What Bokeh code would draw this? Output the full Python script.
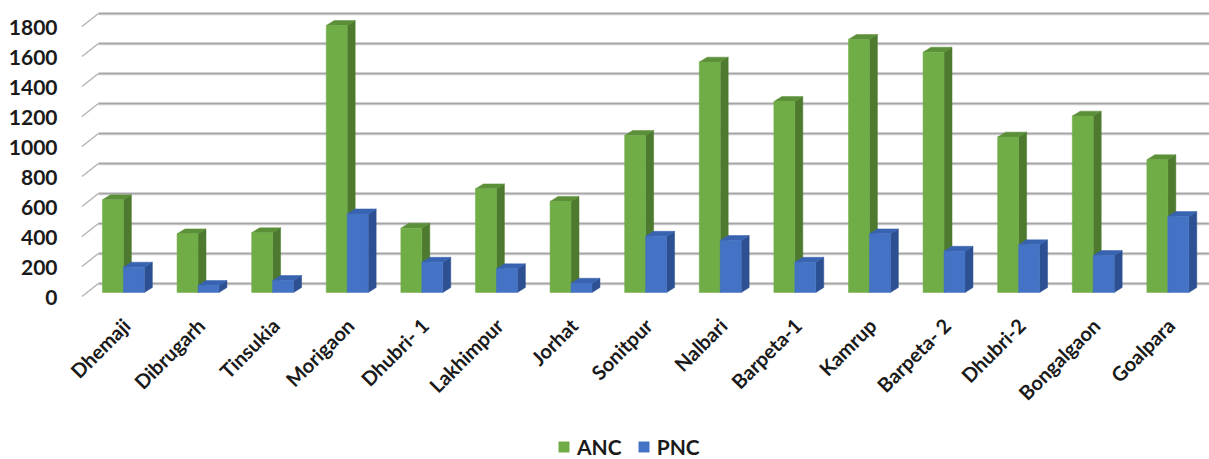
import numpy as np
from bokeh.plotting import figure
from bokeh.models import Range1d, Legend, LegendItem
from bokeh.core.properties import value
from bokeh.embed import file_html
from bokeh.resources import INLINE

# ---------------- data ----------------
districts = ["Dhemaji", "Dibrugarh", "Tinsukia", "Morigaon", "Dhubri- 1", "Lakhimpur",
             "Jorhat", "Sonitpur", "Nalbari", "Barpeta-1", "Kamrup", "Barpeta- 2",
             "Dhubri-2", "Bongalgaon", "Goalpara"]
anc = [618, 391, 398, 1780, 429, 691, 607, 1047, 1536, 1273, 1687, 1602, 1036, 1176, 885]
pnc = [169, 47, 80, 524, 202, 158, 62, 375, 347, 202, 391, 275, 318, 247, 507]
y_ticks = [0, 200, 400, 600, 800, 1000, 1200, 1400, 1600, 1800]
series = ["ANC", "PNC"]

# ---------------- styling / geometry ----------------
FONT = "Lato"
TXT = "#1a1a1a"
GREEN, GREEN_SIDE, GREEN_TOP = "#70ad47", "#4d7a2e", "#5b8f38"
BLUE, BLUE_SIDE, BLUE_TOP = "#4472c4", "#2c5091", "#3863b0"
BAR_W = 0.281            # bar width in category units
ANC_OFF = 0.006          # centre offset of ANC bar from category position
PNC_OFF = 0.287
DX, DY = 0.107, 33.0     # 3-D depth offsets (category units, value units)
WALL_X = -0.188          # back wall left edge
WALL_DY = 60.0           # back wall offset
SIDE_X = -0.429          # front end of slanted side lines
FRONT_DY = -26.7         # front floor edge
YLAB_X, LAB_SHIFT = -0.737, 33.0
XLAB_OFF, XLAB_Y = 0.185, -195.0
XLAB_ANGLE = np.pi / 4

X0, X1 = -1.501, 14.705
Y0, Y1 = -1113.3, 1893.3

p = figure(width=1209, height=459, output_backend="svg", toolbar_location=None,
           x_range=Range1d(X0, X1), y_range=Range1d(Y0, Y1),
           min_border_left=0, min_border_right=0, min_border_top=8,
           min_border_bottom=0, outline_line_color=None,
           x_axis_location=None, y_axis_location=None)
p.xgrid.visible = False
p.ygrid.visible = False

# back wall gridlines and slanted side lines
yt = np.array(y_ticks, dtype=float)
n = len(yt)
p.segment(x0=[WALL_X] * n, y0=yt + WALL_DY - 7, x1=[X1] * n, y1=yt + WALL_DY - 7,
          line_color="#e6e6e6", line_width=2)
p.segment(x0=[WALL_X] * n, y0=yt + WALL_DY, x1=[X1] * n, y1=yt + WALL_DY,
          line_color="#a6a6a6", line_width=2)
p.segment(x0=[SIDE_X + 0.02] * n, y0=yt + FRONT_DY, x1=[WALL_X] * n, y1=yt + WALL_DY,
          line_color="#b5b5b5", line_width=1.5)

# y tick labels
p.text(x=[YLAB_X] * n, y=yt - LAB_SHIFT, text=[str(int(v)) for v in y_ticks],
       text_align="right", text_baseline="middle", text_font=value(FONT),
       text_font_style="bold", text_font_size="21px", text_color=TXT)


def bars3d(vals, off, front, side, top):
    vals = np.array(vals, dtype=float)
    xc = np.arange(len(vals)) + off
    xl, xr = xc - BAR_W / 2, xc + BAR_W / 2
    side_xs = [[a, a + DX, a + DX, a] for a in xr]
    side_ys = [[0, DY, v + DY, v] for v in vals]
    top_xs = [[l, l + DX, r + DX, r] for l, r in zip(xl, xr)]
    top_ys = [[v, v + DY, v + DY, v] for v in vals]
    p.patches(side_xs, side_ys, fill_color=side, line_color=side, line_width=0.5)
    p.patches(top_xs, top_ys, fill_color=top, line_color=top, line_width=0.5)
    return p.vbar(x=xc, width=BAR_W, top=vals, bottom=0, fill_color=front,
                  line_color=front, line_width=0.5)


r_anc = bars3d(anc, ANC_OFF, GREEN, GREEN_SIDE, GREEN_TOP)
r_pnc = bars3d(pnc, PNC_OFF, BLUE, BLUE_SIDE, BLUE_TOP)

# district names (rotated category labels)
p.text(x=np.arange(len(districts)) + XLAB_OFF, y=[XLAB_Y] * len(districts), text=districts,
       angle=XLAB_ANGLE, text_align="right", text_baseline="middle",
       text_font=value(FONT), text_font_style="bold", text_font_size="20px",
       text_color=TXT)

legend = Legend(items=[LegendItem(label=series[0], renderers=[r_anc]),
                       LegendItem(label=series[1], renderers=[r_pnc])],
                orientation="horizontal", location=(557, 0),
                padding=0, margin=0, spacing=15, label_standoff=7,
                glyph_width=13, glyph_height=13, label_height=16,
                label_text_font=FONT, label_text_font_style="bold",
                label_text_font_size="21px", label_text_color=TXT,
                border_line_color=None, background_fill_alpha=0)
p.add_layout(legend, "center")

open("out.html", "w").write(file_html(p, INLINE))
